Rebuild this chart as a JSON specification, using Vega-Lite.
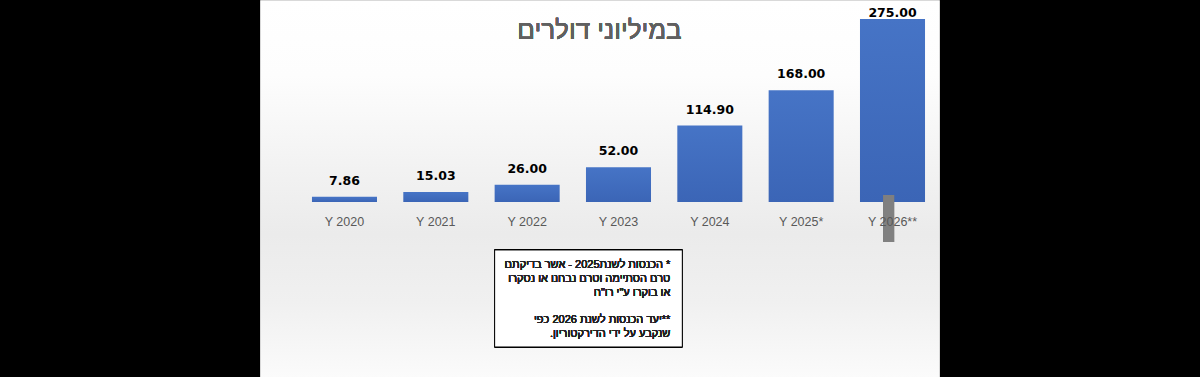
{
  "$schema": "https://vega.github.io/schema/vega-lite/v6.json",
  "width": 679,
  "height": 377,
  "autosize": {"type": "none"},
  "padding": {"left": 260, "top": 0, "right": 261, "bottom": 0},
  "background": "black",
  "config": {
    "view": {
      "stroke": "#d9d9d9",
      "strokeWidth": 1,
      "fill": {
        "gradient": "linear", "x1": 0, "y1": 0, "x2": 0, "y2": 1,
        "stops": [
          {"offset": 0, "color": "#ffffff"},
          {"offset": 0.2, "color": "#fdfdfd"},
          {"offset": 0.45, "color": "#f2f2f2"},
          {"offset": 0.62, "color": "#ebebeb"},
          {"offset": 0.8, "color": "#f0f0f0"},
          {"offset": 1, "color": "#fbfbfb"}
        ]
      }
    }
  },
  "data": {
    "values": [
      {"year": "Y 2020", "value": 7.86},
      {"year": "Y 2021", "value": 15.03},
      {"year": "Y 2022", "value": 26.0},
      {"year": "Y 2023", "value": 52.0},
      {"year": "Y 2024", "value": 114.9},
      {"year": "Y 2025*", "value": 168.0},
      {"year": "Y 2026**", "value": 275.0}
    ]
  },
  "encoding": {
    "x": {
      "field": "year", "type": "nominal", "sort": null, "axis": null,
      "scale": {"type": "band", "paddingInner": 0.288, "paddingOuter": 0.361, "align": 0.788}
    }
  },
  "layer": [
    {
      "mark": {
        "type": "bar",
        "color": {
          "gradient": "linear", "x1": 0, "y1": 0, "x2": 0, "y2": 1,
          "stops": [
            {"offset": 0, "color": "#4674c6"},
            {"offset": 1, "color": "#3b65b6"}
          ]
        }
      },
      "encoding": {
        "y": {"field": "value", "type": "quantitative", "axis": null,
              "scale": {"domain": [-263, 303.5], "nice": false, "zero": false}}
      }
    },
    {
      "mark": {"type": "rule", "color": "#808080", "opacity": 0.55, "strokeWidth": 11},
      "encoding": {
        "x": {"datum": "Y 2026**", "bandPosition": 0.44},
        "y": {"datum": 10.5, "type": "quantitative"},
        "y2": {"datum": -60}
      }
    },
    {
      "transform": [{"filter": "datum.value < 250"}],
      "mark": {"type": "text", "font": "DejaVu Sans", "fontSize": 12.5, "fontWeight": "bold", "color": "#000000", "baseline": "alphabetic", "dy": -12},
      "encoding": {
        "y": {"field": "value", "type": "quantitative"},
        "text": {"field": "value", "type": "quantitative", "format": ".2f"}
      }
    },
    {
      "transform": [{"filter": "datum.value >= 250"}],
      "mark": {"type": "text", "font": "DejaVu Sans", "fontSize": 12.5, "fontWeight": "bold", "color": "#000000", "baseline": "alphabetic", "dy": -2},
      "encoding": {
        "y": {"field": "value", "type": "quantitative"},
        "text": {"field": "value", "type": "quantitative", "format": ".2f"}
      }
    },
    {
      "mark": {"type": "text", "font": "Liberation Sans", "fontSize": 12.5, "color": "#595959", "baseline": "alphabetic"},
      "encoding": {
        "y": {"datum": -36, "type": "quantitative"},
        "text": {"field": "year", "type": "nominal"}
      }
    },
    {
      "mark": {"type": "text", "font": "Liberation Sans", "fontSize": 26, "color": "#606060", "baseline": "alphabetic", "align": "center", "dx": -19},
      "encoding": {
        "x": {"datum": "Y 2023"},
        "y": {"datum": 244.9, "type": "quantitative"},
        "text": {"value": "במיליוני דולרים"}
      }
    },
    {
      "mark": {"type": "rect", "fill": "#ffffff", "stroke": "#000000", "strokeWidth": 1},
      "encoding": {
        "x": {"datum": "Y 2022", "bandPosition": 0},
        "x2": {"datum": "Y 2024", "bandPosition": 0.077},
        "y": {"datum": -72.1, "type": "quantitative"},
        "y2": {"datum": -217.9}
      }
    },
    {
      "mark": {"type": "text", "font": "Liberation Sans", "fontSize": 11, "color": "#222222", "baseline": "alphabetic", "align": "right", "lineHeight": 13.8, "dx": -7},
      "encoding": {
        "x": {"datum": "Y 2024", "bandPosition": 0},
        "y": {"datum": -99.2, "type": "quantitative"},
        "text": {"value": [
          "\u200f* הכנסות לשנת2025 - אשר בדיקתם\u200f",
          "\u200fטרם הסתיימה וטרם נבחנו או נסקרו\u200f",
          "\u200fאו בוקרו ע\"י רו\"ח\u200f",
          "\u200f",
          "\u200f**יעד הכנסות לשנת 2026 כפי\u200f",
          "\u200fשנקבע על ידי הדירקטוריון.\u200f"
        ]}
      }
    }
  ]
}
